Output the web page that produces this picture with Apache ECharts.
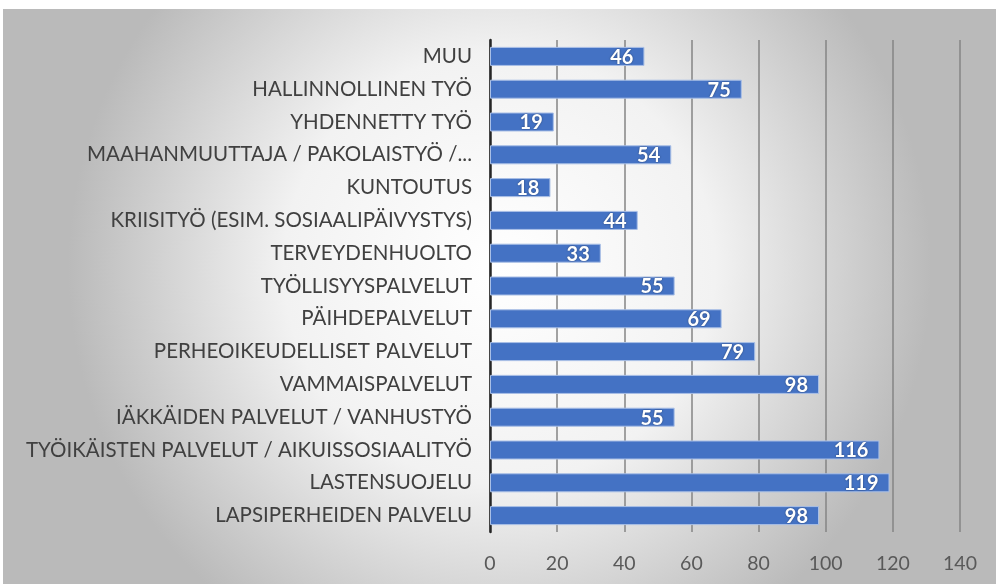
<!DOCTYPE html>
<html><head><meta charset="utf-8">
<script src="https://cdn.jsdelivr.net/npm/echarts@6/dist/echarts.min.js"></script>
<style>html,body{margin:0;padding:0;background:#fff}#c{width:996px;height:584px}</style>
</head><body><div id="c"></div>
<script>
const categories = ["LAPSIPERHEIDEN PALVELU","LASTENSUOJELU","TYÖIKÄISTEN PALVELUT / AIKUISSOSIAALITYÖ","IÄKKÄIDEN PALVELUT / VANHUSTYÖ","VAMMAISPALVELUT","PERHEOIKEUDELLISET PALVELUT","PÄIHDEPALVELUT","TYÖLLISYYSPALVELUT","TERVEYDENHUOLTO","KRIISITYÖ (ESIM. SOSIAALIPÄIVYSTYS)","KUNTOUTUS","MAAHANMUUTTAJA / PAKOLAISTYÖ /...","YHDENNETTY TYÖ","HALLINNOLLINEN TYÖ","MUU"];
const values = [98,119,116,55,98,79,69,55,33,44,18,54,19,75,46];
const xMin = 0, xMax = 140, xStep = 20;

const chart = echarts.init(document.getElementById('c'), null, {renderer:'canvas'});
const font = 'Lato, "Open Sans", sans-serif';
chart.setOption({
  animation:false,
  graphic:[{type:'rect', z:-10, shape:{x:3,y:9,width:993,height:575},
    style:{fill:{type:'radial',x:0.5,y:0.45,r:0.75,colorStops:[{offset:0,color:'#ffffff'},{offset:0.5,color:'#f2f2f2'},{offset:1,color:'#bababa'}]}}}],
  grid:{left:490,right:36,top:40,bottom:52,containLabel:false},
  xAxis:{type:'value',min:xMin,max:xMax,interval:xStep,
    axisLine:{show:false},axisTick:{show:false},
    splitLine:{show:true,lineStyle:{color:'#858585',width:1.5}},
    axisLabel:{color:'#595959',fontSize:19.5,fontFamily:font,margin:22}},
  yAxis:{type:'category',data:categories,
    axisLine:{show:true,lineStyle:{color:'#262626',width:2.5}},axisTick:{show:false},
    axisLabel:{color:'#404040',fontSize:20.5,fontFamily:font,margin:18}},
  series:[{type:'bar',data:values,barCategoryGap:'42%',
    itemStyle:{color:'#4472C4',borderColor:'#a9bfe6',borderWidth:1},
    label:{show:true,position:'insideRight',offset:[-6,1],color:'#fff',fontWeight:'bold',fontSize:20,fontFamily:font,
      textShadowColor:'rgba(0,0,0,0.45)',textShadowBlur:2}}]
});
</script></body></html>
